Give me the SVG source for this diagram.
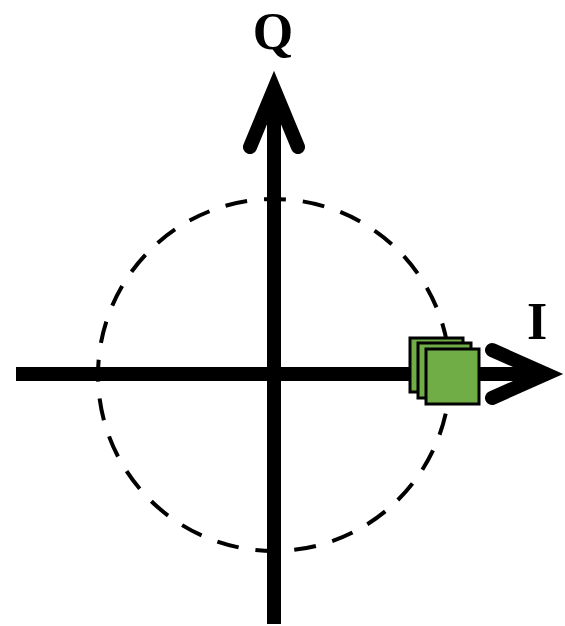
<svg xmlns="http://www.w3.org/2000/svg" width="565" height="626" viewBox="0 0 565 626">
  <style>
    .axis { stroke: #000; stroke-width: 14; fill: none; }
    .head { stroke: #000; stroke-width: 14; fill: none; stroke-linecap: round; stroke-linejoin: miter; stroke-miterlimit: 10; }
    .lbl { font-family: "Liberation Serif", "Times New Roman", serif; font-weight: bold; font-size: 52px; fill: #000; text-anchor: middle; }
    .sym { fill: #70AD47; stroke: #000; stroke-width: 3; }
  </style>
  <rect width="565" height="626" fill="#fff"/>
  <g id="circle">
    <circle cx="274" cy="375" r="176" fill="none" stroke="#000" stroke-width="4" stroke-dasharray="22 17"/>
  </g>
  <g id="connectors">
    <line class="axis" x1="16" y1="374" x2="548" y2="374"/>
    <polyline class="head" points="492,350 546,374 492,398"/>
    <line class="axis" x1="274" y1="624" x2="274" y2="92"/>
    <polyline class="head" points="250,147 274,89 298,147"/>
  </g>
  <g id="label-Q">
    <text class="lbl" x="273" y="49">Q</text>
  </g>
  <g id="label-I">
    <text class="lbl" x="537" y="339">I</text>
  </g>
  <g id="symbols">
    <rect class="sym" x="410" y="338" width="53" height="54"/>
    <rect class="sym" x="418" y="343" width="53" height="55"/>
    <rect class="sym" x="426" y="349" width="53" height="55"/>
  </g>
</svg>
